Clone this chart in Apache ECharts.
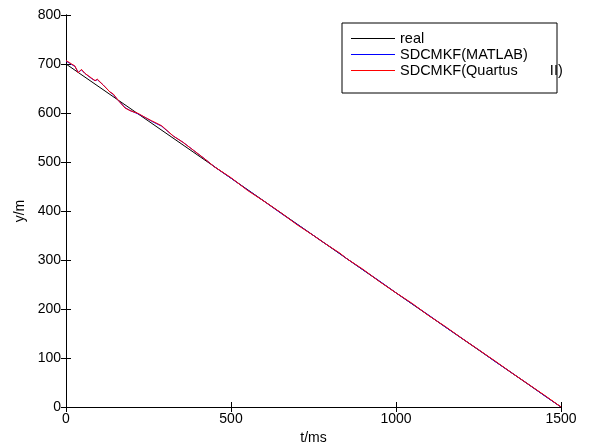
<!DOCTYPE html>
<html>
<head>
<meta charset="utf-8">
<script src="https://cdn.jsdelivr.net/npm/echarts@6/dist/echarts.min.js"></script>
<style>html,body{margin:0;padding:0;background:#fff}#c{width:590px;height:445px}</style>
</head>
<body>
<div id="c"></div>
<script>
var seriesNames = ['real', 'SDCMKF(MATLAB)', 'SDCMKF(Quartus        II)'];
var seriesColors = ['#000000', '#0000ff', '#ff0000'];
var xTicks = [0, 500, 1000, 1500];
var yTicks = [0, 100, 200, 300, 400, 500, 600, 700, 800];

var realData = [[0, 700], [500, 467], [1000, 233], [1500, 0]];

var quartusData = [
  [0, 707], [10, 703], [17, 700], [27, 696], [37, 682], [47, 689], [57, 681],
  [78, 671], [88, 666], [95, 669], [113, 657], [133, 643], [143, 639], [158, 626],
  [179, 610], [194, 605], [219, 599], [245, 589], [260, 584], [290, 574], [325, 553],
  [355, 540], [386, 524], [421, 506], [450, 490], [500, 468], [550, 442], [600, 420],
  [650, 397], [700, 372], [750, 350], [780, 336], [800, 327], [830, 314], [850, 303],
  [900, 281], [950, 256], [1000, 233], [1050, 211], [1100, 186], [1150, 164],
  [1200, 140], [1250, 117], [1300, 94], [1350, 70], [1400, 47], [1450, 24], [1500, 0]
];

var matlabData = [
  [0, 706], [10, 702], [17, 699], [27, 695], [37, 683], [47, 688], [57, 681],
  [78, 670], [88, 666], [95, 668], [113, 657], [133, 643], [143, 638], [158, 626],
  [179, 611], [194, 605], [219, 598], [245, 589], [260, 583], [290, 573], [325, 553],
  [355, 540], [386, 524], [421, 506], [450, 490], [500, 467], [550, 443], [600, 420],
  [650, 396], [700, 373], [750, 350], [780, 336], [800, 327], [830, 313], [850, 303],
  [900, 280], [950, 257], [1000, 233], [1050, 210], [1100, 187], [1150, 163],
  [1200, 140], [1250, 117], [1300, 93], [1350, 70], [1400, 47], [1450, 23], [1500, 0]
];

var FONT = 'Liberation Sans, Arial, sans-serif';
var chart = echarts.init(document.getElementById('c'), null, {renderer: 'canvas'});
var axisCommon = {
  axisLine: {show: true, lineStyle: {color: '#000', width: 1}},
  axisTick: {show: true, inside: true, length: 5, lineStyle: {color: '#000'}},
  splitLine: {show: false}
};
function plain(v) { return String(v); }
chart.setOption({
  backgroundColor: '#fff',
  animation: false,
  grid: {left: 66, right: 29, top: 15, bottom: 38, containLabel: false, outerBoundsMode: 'none'},
  legend: {
    orient: 'vertical', left: 351, top: 31, padding: 0,
    icon: 'rect', itemWidth: 44, itemHeight: 1, itemGap: 1,
    textStyle: {fontFamily: FONT, fontSize: 14.5, color: '#000', lineHeight: 15},
    data: seriesNames.map(function (n, i) {
      return {name: n, itemStyle: {color: seriesColors[i]}};
    })
  },
  graphic: [{
    type: 'rect', shape: {x: 342, y: 23, width: 215, height: 70},
    style: {fill: 'none', stroke: '#000', lineWidth: 1}, z: 100
  }],
  xAxis: [
    Object.assign({
      type: 'value', min: 0, max: 1500, interval: 500, position: 'bottom',
      name: 't/ms', nameLocation: 'middle', nameGap: 24,
      nameTextStyle: {fontFamily: FONT, fontSize: 14, color: '#000'},
      axisLabel: {fontFamily: FONT, fontSize: 14, color: '#000', margin: 5, formatter: plain}
    }, axisCommon),
    Object.assign({
      type: 'value', min: 0, max: 1500, interval: 500, position: 'top',
      axisLabel: {show: false}
    }, axisCommon)
  ],
  yAxis: [
    Object.assign({
      type: 'value', min: 0, max: 800, interval: 100, position: 'left',
      name: 'y/m', nameLocation: 'middle', nameGap: 39,
      nameTextStyle: {fontFamily: FONT, fontSize: 14, color: '#000'},
      axisLabel: {fontFamily: FONT, fontSize: 14, color: '#000', margin: 5, formatter: plain}
    }, axisCommon),
    Object.assign({
      type: 'value', min: 0, max: 800, interval: 100, position: 'right',
      axisLabel: {show: false}
    }, axisCommon)
  ],
  series: [
    {name: seriesNames[0], type: 'line', data: realData, symbol: 'none',
     lineStyle: {color: seriesColors[0], width: 1}, itemStyle: {color: seriesColors[0]}},
    {name: seriesNames[1], type: 'line', data: matlabData, symbol: 'none',
     lineStyle: {color: seriesColors[1], width: 1}, itemStyle: {color: seriesColors[1]}},
    {name: seriesNames[2], type: 'line', data: quartusData, symbol: 'none',
     lineStyle: {color: seriesColors[2], width: 1}, itemStyle: {color: seriesColors[2]}}
  ]
});
</script>
</body>
</html>
